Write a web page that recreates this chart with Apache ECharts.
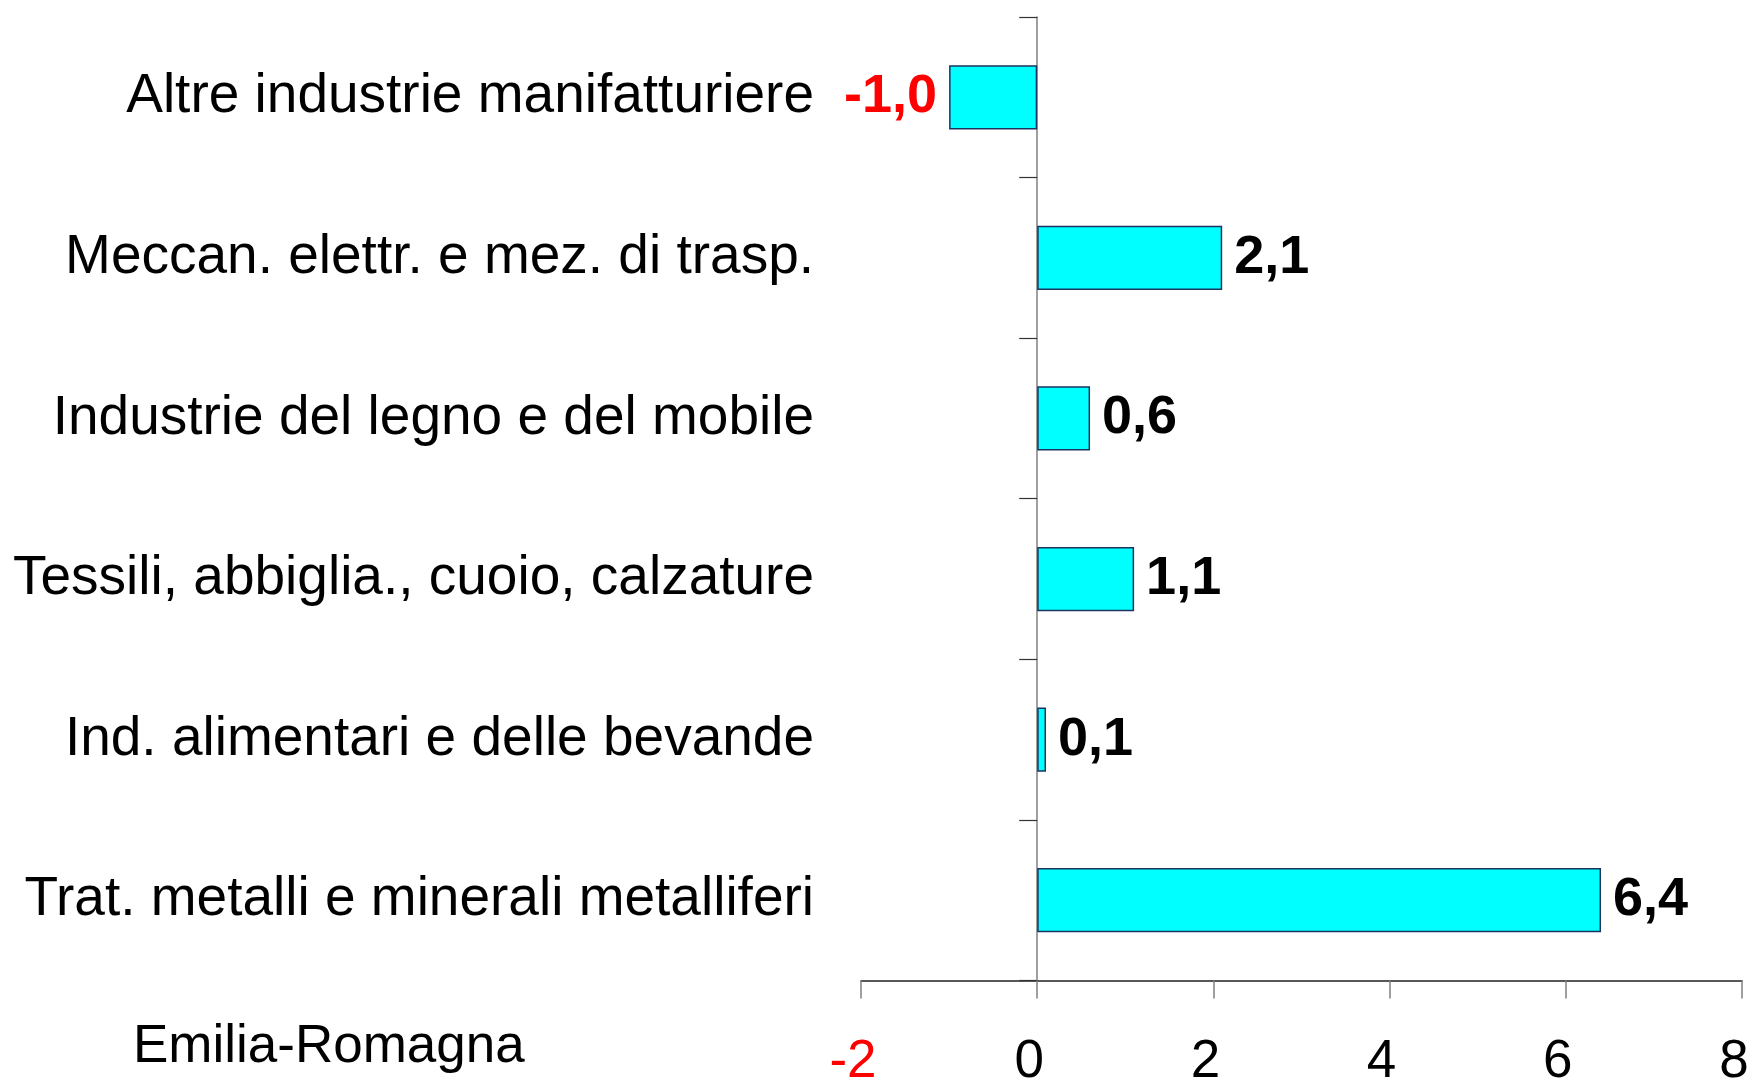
<!DOCTYPE html>
<html>
<head>
<meta charset="utf-8">
<script src="https://cdn.jsdelivr.net/npm/echarts@6/dist/echarts.min.js"></script>
<style>
  html, body { margin: 0; padding: 0; background: #fff; }
  #chart { width: 1753px; height: 1079px; }
</style>
</head>
<body>
<div id="chart"></div>
<script>
// settori, dall'alto verso il basso
const categories = [
  'Altre industrie manifatturiere',
  'Meccan. elettr. e mez. di trasp.',
  'Industrie del legno e del mobile',
  'Tessili, abbiglia., cuoio, calzature',
  'Ind. alimentari e delle bevande',
  'Trat. metalli e minerali metalliferi'
]
const values = [-1.0, 2.1, 0.6, 1.1, 0.1, 6.4]
const xTicks = [-2, 0, 2, 4, 6, 8]
const regionLabel = 'Emilia-Romagna'

const FONT = '"Liberation Sans", Arial, sans-serif'

const chart = echarts.init(document.getElementById('chart'))

const option = {
  animation: false,
  backgroundColor: '#fff',
  grid: { left: 861, right: 11, top: 17, bottom: 98.5, containLabel: false, outerBoundsMode: 'none' },
  xAxis: {
    type: 'value',
    min: xTicks[0],
    max: xTicks[xTicks.length - 1],
    interval: 2,
    splitLine: { show: false },
    axisLine: { show: true, onZero: false, lineStyle: { color: '#222', width: 1.5 } },
    axisTick: { show: true, length: 18, lineStyle: { color: '#808080', width: 1.5 } },
    axisLabel: {
      margin: 55,
      fontFamily: FONT,
      fontSize: 53,
      // etichette leggermente spostate a sinistra rispetto alle tacche
      padding: [0, 16, 0, 0],
      color: (v) => (Number(v) < 0 ? '#ff0000' : '#000'),
      formatter: (v) => String(v)
    }
  },
  yAxis: {
    type: 'category',
    inverse: true,
    data: categories,
    axisLine: { show: true, onZero: true, lineStyle: { color: '#808080', width: 1.5 } },
    axisTick: { show: true, length: 18, inside: false, lineStyle: { color: '#333', width: 1.2 } },
    axisLabel: {
      margin: 47,
      fontFamily: FONT,
      fontSize: 55,
      color: '#000'
    }
  },
  series: [{
    type: 'bar',
    barWidth: '40%',
    data: values.map(v => ({
      value: v,
      label: {
        position: v < 0 ? 'left' : 'right',
        color: v < 0 ? '#ff0000' : '#000'
      }
    })),
    itemStyle: { color: '#00ffff', borderColor: '#1a3560', borderWidth: 1.5 },
    label: {
      show: true,
      distance: 12,
      fontFamily: FONT,
      fontSize: 54,
      fontWeight: 'bold',
      formatter: (p) => p.value.toFixed(1).replace('.', ',')
    }
  }],
  graphic: [{
    type: 'text',
    left: 133,
    top: 1021,
    style: {
      text: regionLabel,
      font: '53px ' + FONT,
      fill: '#000'
    }
  }]
}

chart.setOption(option)
window.addEventListener('resize', () => chart.resize())
</script>
</body>
</html>
